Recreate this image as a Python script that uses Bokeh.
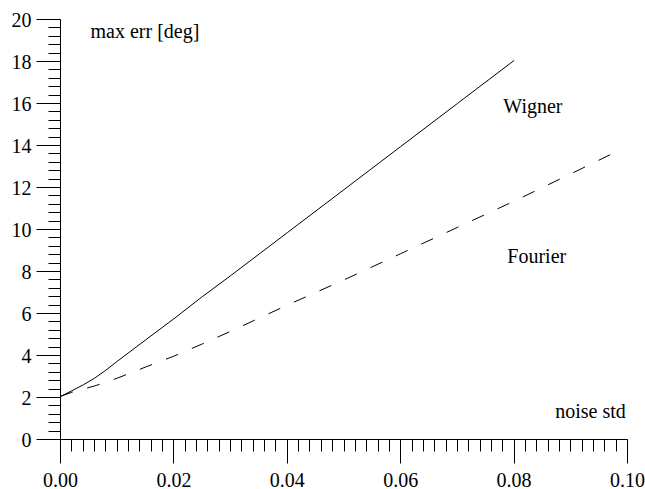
from bokeh.plotting import figure
from bokeh.models import FixedTicker, Label, Range1d
from bokeh.embed import file_html
from bokeh.resources import INLINE

# Data
wigner_x = [0.0, 0.002, 0.004, 0.006, 0.008, 0.010, 0.015, 0.020, 0.025, 0.030,
            0.040, 0.050, 0.060, 0.070, 0.080]
wigner_y = [2.05, 2.32, 2.6, 2.92, 3.3, 3.72, 4.74, 5.75, 6.8, 7.8,
            9.85, 11.9, 13.95, 16.0, 18.05]

fourier_x = [0.0, 0.002, 0.004, 0.006, 0.008, 0.010, 0.015, 0.020, 0.025, 0.030,
             0.040, 0.050, 0.060, 0.070, 0.080, 0.090, 0.098]
fourier_y = [2.05, 2.25, 2.4, 2.55, 2.72, 2.92, 3.45, 3.97, 4.55, 5.15,
             6.4, 7.6, 8.85, 10.1, 11.35, 12.65, 13.7]

x_ticks = [0.0, 0.02, 0.04, 0.06, 0.08, 0.10]
x_tick_labels = ["0.00", "0.02", "0.04", "0.06", "0.08", "0.10"]
x_minor = [i * 0.002 for i in range(51)]
y_ticks = [0, 2, 4, 6, 8, 10, 12, 14, 16, 18, 20]
y_tick_labels = [str(v) for v in y_ticks]
y_minor = [i * 0.4 for i in range(51)]

FONT = "Liberation Serif"

p = figure(width=645, height=489, output_backend="svg", toolbar_location=None,
           x_range=Range1d(0, 0.1), y_range=Range1d(0, 20),
           min_border_left=60, min_border_right=18, min_border_top=19,
           min_border_bottom=49)
p.outline_line_color = None
p.grid.visible = False
p.background_fill_color = "white"
p.border_fill_color = "white"

p.line(wigner_x, wigner_y, line_color="black", line_width=1)
p.line(fourier_x, fourier_y, line_color="black", line_width=1, line_dash="13 15")

for ax in (p.xaxis[0], p.yaxis[0]):
    ax.axis_line_color = "black"
    ax.axis_line_width = 1
    ax.major_tick_line_color = "black"
    ax.minor_tick_line_color = "black"
    ax.major_tick_in = 0
    ax.minor_tick_in = 0
    ax.major_tick_out = 24
    ax.minor_tick_out = 12
    ax.major_label_text_font = FONT
    ax.major_label_text_font_size = "20px"
    ax.major_label_text_color = "black"

p.xaxis[0].ticker = FixedTicker(ticks=x_ticks, minor_ticks=x_minor)
p.xaxis[0].major_label_overrides = dict(zip(x_ticks, x_tick_labels))
p.xaxis[0].major_label_standoff = 9
p.yaxis[0].ticker = FixedTicker(ticks=y_ticks, minor_ticks=y_minor)
p.yaxis[0].major_label_overrides = dict(zip(y_ticks, y_tick_labels))
p.yaxis[0].major_label_standoff = 5

def lab(x, y, text, align):
    p.add_layout(Label(x=x, y=y, text=text, text_font=FONT, text_font_size="20px",
                       text_color="black", text_align=align, text_baseline="middle"))

lab(0.0053, 19.45, "max err [deg]", "left")
lab(0.0997, 1.38, "noise std", "right")
lab(0.0781, 15.9, "Wigner", "left")
lab(0.0788, 8.72, "Fourier", "left")

open("out.html", "w").write(file_html(p, INLINE))
